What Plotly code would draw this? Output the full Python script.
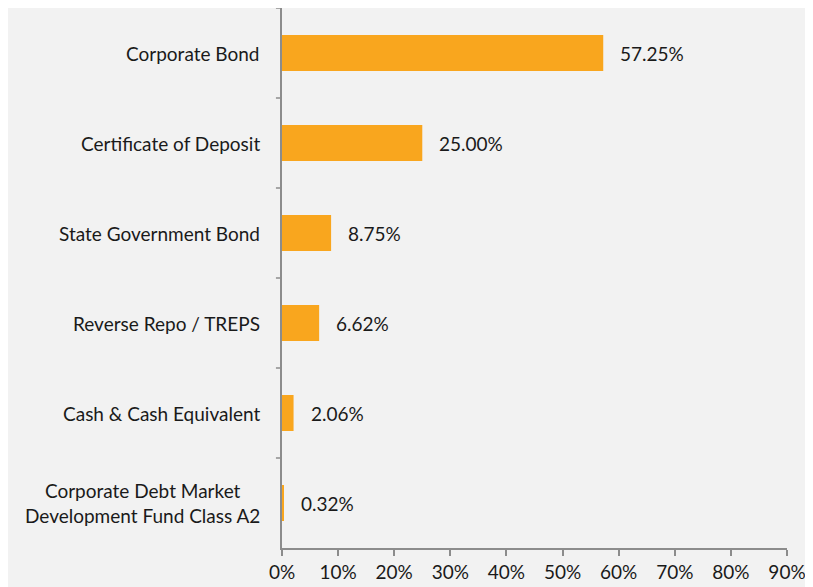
import plotly.graph_objects as go

categories = [
    "Corporate Bond",
    "Certificate of Deposit",
    "State Government Bond",
    "Reverse Repo / TREPS",
    "Cash & Cash Equivalent",
    "Corporate Debt Market<br>Development Fund Class A2",
]
values = [57.25, 25.00, 8.75, 6.62, 2.06, 0.32]
x_ticks = [0, 10, 20, 30, 40, 50, 60, 70, 80, 90]
x_tick_labels = [f"{t}%" for t in x_ticks]

FONT = "Lato, Open Sans, sans-serif"
FS = 19
BAR = "#F9A61E"
AXIS = "#8C8C8C"

fig = go.Figure()
fig.add_trace(go.Bar(
    x=values, y=list(range(len(categories))),
    orientation="h",
    marker=dict(color=BAR, line=dict(width=0)),
    width=0.4,
    hoverinfo="skip",
))

# value labels to the right of each bar
for i, v in enumerate(values):
    fig.add_annotation(
        x=v, y=i, xref="x", yref="y",
        text=f"{v:.2f}%", showarrow=False,
        xanchor="left", xshift=15,
        font=dict(family=FONT, size=FS, color="#1a1a1a"),
    )

# category labels, centered lines
for i, c in enumerate(categories):
    fig.add_annotation(
        x=0, y=i, xref="paper", yref="y",
        text=c, showarrow=False, align="center",
        xanchor="right", xshift=-20,
        font=dict(family=FONT, size=FS, color="#1a1a1a"),
    )

# page body has an 8px margin, so the figure is shrunk to fit the window
fig.update_layout(
    width=805, height=579,
    paper_bgcolor="#F2F2F2", plot_bgcolor="#F2F2F2",
    margin=dict(l=274, r=26, t=0, b=39),
    showlegend=False,
    font=dict(family=FONT, size=FS, color="#1a1a1a"),
    xaxis=dict(
        range=[0, 90], tickvals=x_ticks, ticktext=x_tick_labels,
        showgrid=False, zeroline=False,
        showline=True, linecolor=AXIS, linewidth=1.5,
        ticks="outside", ticklen=6, tickcolor=AXIS, tickwidth=1.5,
        tickfont=dict(family=FONT, size=FS, color="#1a1a1a"),
        fixedrange=True,
    ),
    yaxis=dict(
        range=[len(categories) - 0.5, -0.5],
        tickvals=list(range(len(categories))),
        ticktext=[""] * len(categories),
        type="linear",
        showgrid=False, zeroline=False,
        showline=True, linecolor=AXIS, linewidth=1.5,
        fixedrange=True,
    ),
)

# tick marks between categories on the y axis
for b in [k - 0.5 for k in range(len(categories))]:
    fig.add_shape(
        type="line", xref="paper", yref="y",
        x0=-0.012, x1=0, y0=b, y1=b,
        line=dict(color=AXIS, width=1.5),
    )

fig.write_html("out.html")
